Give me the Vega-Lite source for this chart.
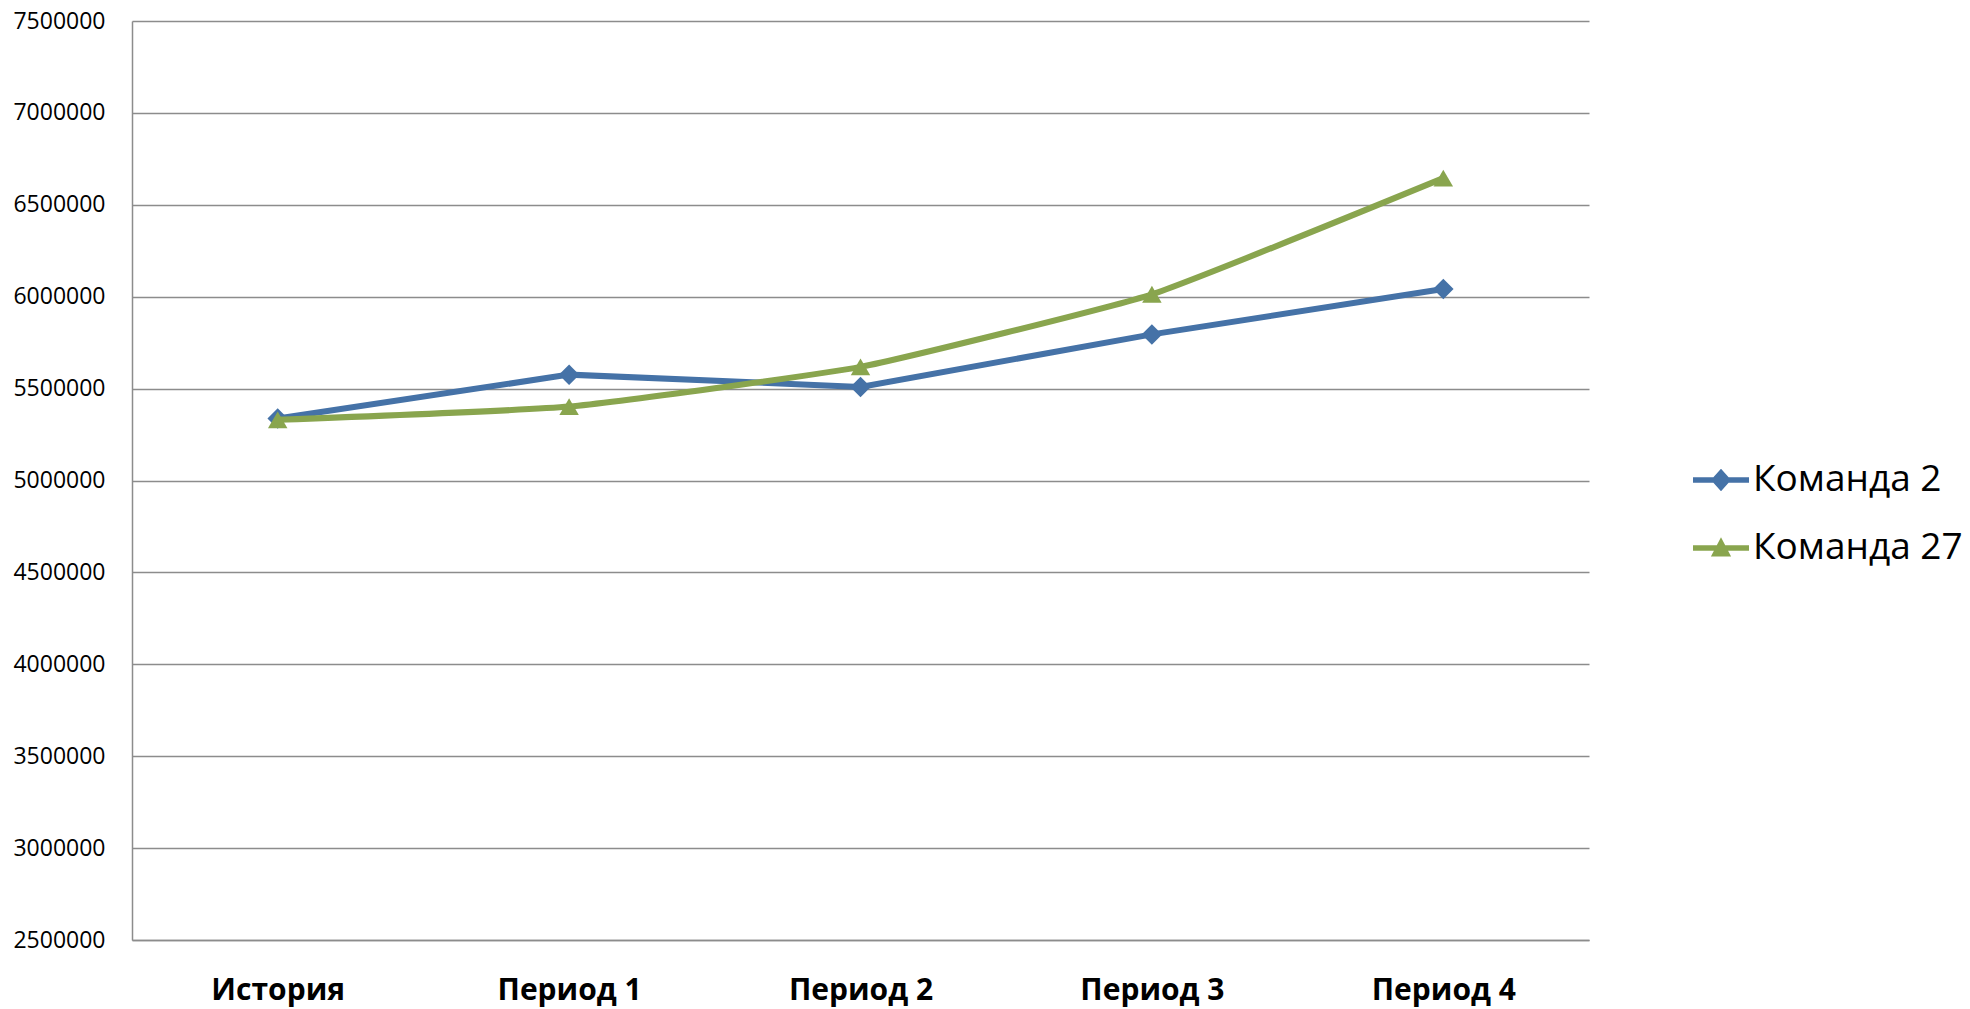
{
  "$schema": "https://vega.github.io/schema/vega-lite/v6.json",
  "width": 1457,
  "height": 919,
  "autosize": {"type": "none"},
  "padding": {"left": 132, "top": 21, "right": 381, "bottom": 69},
  "background": "white",
  "data": {
    "values": [
      {"period": "История", "team": "Команда 2", "value": 5337000},
      {"period": "Период 1", "team": "Команда 2", "value": 5576000},
      {"period": "Период 2", "team": "Команда 2", "value": 5509000},
      {"period": "Период 3", "team": "Команда 2", "value": 5795000},
      {"period": "Период 4", "team": "Команда 2", "value": 6042000},
      {"period": "История", "team": "Команда 27", "value": 5330000},
      {"period": "Период 1", "team": "Команда 27", "value": 5402000},
      {"period": "Период 2", "team": "Команда 27", "value": 5618000},
      {"period": "Период 3", "team": "Команда 27", "value": 6013000},
      {"period": "Период 4", "team": "Команда 27", "value": 6645000}
    ]
  },
  "encoding": {
    "x": {
      "field": "period", "type": "ordinal", "sort": null,
      "scale": {"type": "point", "padding": 0.5},
      "axis": {
        "title": null, "labelAngle": 0, "ticks": false, "grid": false,
        "labelFont": "Open Sans", "labelFontSize": 30, "labelFontWeight": "bold",
        "labelColor": "black", "labelPadding": 35,
        "domainColor": "#8c8c8c", "domainWidth": 1.5
      }
    },
    "y": {
      "field": "value", "type": "quantitative",
      "scale": {"domain": [2500000, 7500000], "zero": false, "nice": false},
      "axis": {
        "title": null, "ticks": false, "format": "d",
        "values": [2500000, 3000000, 3500000, 4000000, 4500000, 5000000, 5500000, 6000000, 6500000, 7000000, 7500000],
        "labelFont": "Open Sans", "labelFontSize": 23, "labelColor": "black", "labelPadding": 27,
        "gridColor": "#8c8c8c", "gridWidth": 1.5,
        "domainColor": "#8c8c8c", "domainWidth": 1.5
      }
    },
    "color": {
      "field": "team", "type": "nominal",
      "scale": {"domain": ["Команда 2", "Команда 27"], "range": ["#4572A7", "#89A54E"]},
      "legend": {
        "title": null, "orient": "none", "legendX": 1561, "legendY": 431,
        "padding": 0, "symbolSize": 3136, "rowPadding": 22, "labelOffset": 4, "labelLimit": 600,
        "labelFont": "Open Sans", "labelFontSize": 37, "labelColor": "black",
        "encode": {
          "symbols": {
            "update": {
              "shape": {"signal": "datum.value === 'Команда 2' ? 'M-1,-0.1L1,-0.1L1,0.1L-1,0.1Z M0,-0.4L0.36,0L0,0.4L-0.36,0Z' : 'M-1,-0.1L1,-0.1L1,0.1L-1,0.1Z M0,-0.38L0.36,0.3L-0.36,0.3Z'"},
              "fill": {"signal": "datum.value === 'Команда 2' ? '#4572A7' : '#89A54E'"},
              "fillOpacity": {"value": 1},
              "strokeWidth": {"value": 0},
              "stroke": {"value": "transparent"}
            }
          }
        }
      }
    }
  },
  "layer": [
    {
      "transform": [{"filter": "datum.team === 'Команда 2'"}],
      "mark": {"type": "line", "strokeWidth": 6, "interpolate": "linear"}
    },
    {
      "transform": [{"filter": "datum.team === 'Команда 2'"}],
      "mark": {"type": "point", "filled": true, "opacity": 1, "shape": "diamond", "size": 420}
    },
    {
      "transform": [{"filter": "datum.team === 'Команда 27'"}],
      "mark": {"type": "line", "strokeWidth": 6, "interpolate": "cardinal", "tension": 0.6}
    },
    {
      "transform": [{"filter": "datum.team === 'Команда 27'"}],
      "mark": {"type": "point", "filled": true, "opacity": 1, "shape": "triangle-up", "size": 380}
    }
  ],
  "config": {"view": {"stroke": null}}
}
